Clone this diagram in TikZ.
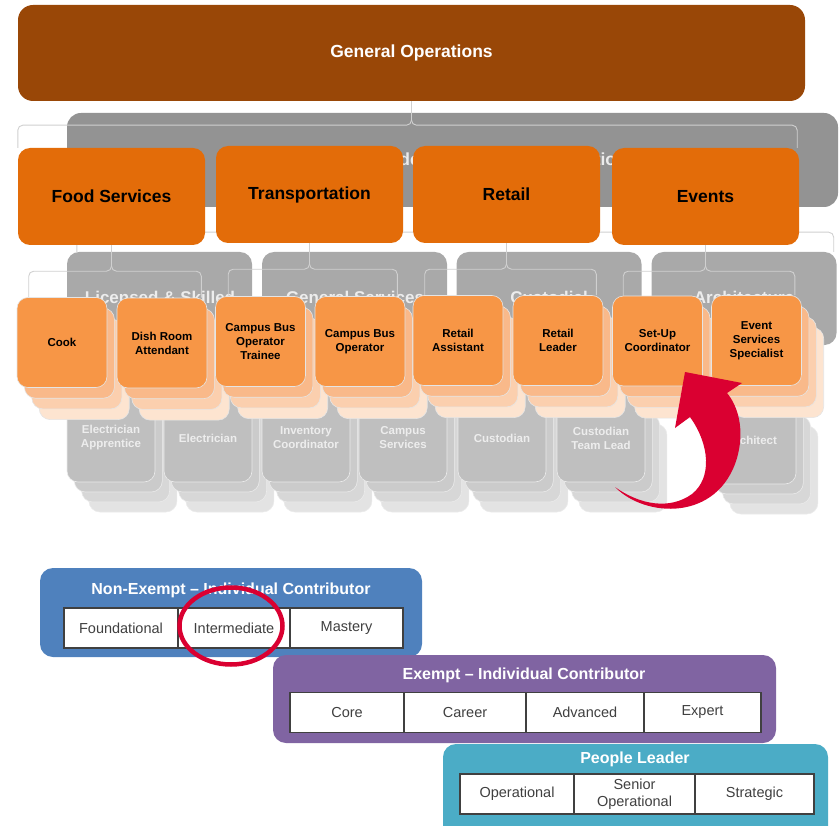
\documentclass[tikz,border=0pt]{standalone}
\usepackage{fontspec}
\setmainfont{Liberation Sans}
\usetikzlibrary{positioning, shapes.geometric}
\definecolor{opsbrown}{HTML}{994707}
\definecolor{opsorange}{HTML}{E36C09}
\definecolor{jobfront}{HTML}{F79646}
\definecolor{jobback1}{HTML}{F9B98A}
\definecolor{jobback2}{HTML}{FBCFAE}
\definecolor{jobback3}{HTML}{FDE4D0}
\definecolor{ghostbar}{HTML}{939393}
\definecolor{ghostmid}{HTML}{A9A9A9}
\definecolor{ghostfront}{HTML}{BFBFBF}
\definecolor{ghostback1}{HTML}{CBCBCB}
\definecolor{ghostback2}{HTML}{D7D7D7}
\definecolor{ghostback3}{HTML}{E3E3E3}
\definecolor{ghosttext}{HTML}{EDEDED}
\definecolor{bracegray}{HTML}{D0D0D0}
\definecolor{nonexblue}{HTML}{4F81BD}
\definecolor{exemptpurple}{HTML}{8064A2}
\definecolor{leaderteal}{HTML}{4BACC6}
\definecolor{celltext}{HTML}{404040}
\definecolor{moveRed}{HTML}{DA0031}
\pgfdeclarelayer{ghost}
\pgfdeclarelayer{braces}
\pgfsetlayers{ghost,braces,main}

\begin{document}
\begin{tikzpicture}[x=1pt, y=-1pt,
    dept/.style={rounded corners=12pt, fill=opsorange, minimum width=187pt, minimum height=97pt, inner sep=0pt, font=\bfseries\fontsize{17.5}{20}\selectfont},
    jobcard/.style={rounded corners=11pt, minimum width=90pt, minimum height=90pt, inner sep=0pt, align=center, draw=black!10, line width=0.6pt, font=\bfseries\fontsize{11.5}{14}\selectfont},
    ghostunit/.style={rounded corners=12pt, fill=ghostmid, minimum width=185pt, minimum height=93pt, inner sep=0pt},
    ghostcard/.style={rounded corners=11pt, minimum width=88pt, minimum height=88pt, inner sep=0pt, align=center, draw=black!8, line width=0.6pt, text=ghosttext, font=\bfseries\fontsize{11.5}{14}\selectfont},
    ghosttitle/.style={text=ghosttext, inner sep=0pt, font=\bfseries\fontsize{17}{20}\selectfont},
    brace/.style={draw=bracegray, line width=0.9pt, rounded corners=5pt},
    band/.style={rounded corners=13pt, inner sep=0pt},
    bandtitle/.style={text=white, font=\bfseries\fontsize{16}{19}\selectfont},
    level/.style={draw=celltext, fill=white, line width=1.1pt, outer sep=0pt, minimum height=40pt, inner sep=0pt, align=center, text=celltext, font=\fontsize{14.5}{17.5}\selectfont}
  ]
  \useasboundingbox (0,0) rectangle (840,826);

  % faded chart behind the orange one
  \begin{pgfonlayer}{ghost}
    \node[rounded corners=14pt, fill=ghostbar, minimum width=771pt, minimum height=94pt] (ghostbar) at (452.5,160) {};
    \node[ghosttitle, anchor=base west, text=white!85!gray, font=\bfseries\fontsize{17.5}{20}\selectfont] (ghostbarTxt) at (369,166) {Leadership and Administration};
    \node[ghostunit] (gLicensed) at (159.5,298.5) {};
    \node[ghostunit] (gGeneral) at (354.5,298.5) {};
    \node[ghostunit] (gCustodial) at (549,298.5) {};
    \node[ghostunit] (gArch) at (744,298.5) {};
    \node[ghosttitle, anchor=base] (gLicensedTxt) at (160,303) {Licensed \& Skilled};
    \node[ghosttitle, anchor=base] (gGeneralTxt) at (355,303) {General Services};
    \node[ghosttitle, anchor=base] (gCustodialTxt) at (549,303) {Custodial};
    \node[ghosttitle, anchor=base] (gArchTxt) at (744,303) {Architecture};
    \foreach \gx/\gy/\gname/\gtext in {111/438/gApprentice/{Electrician\\Apprentice}, 208/438/gElectrician/Electrician,
        306/438/gInventory/{Inventory\\Coordinator}, 403/438/gCampus/{Campus\\Services}, 502/438/gCustodian/Custodian,
        601/438/gTeamLead/{Custodian\\Team Lead}, 752/440/gArchitect/Architect} {
      \foreach \k/\shade in {3/ghostback3, 2/ghostback2, 1/ghostback1}
        \node[ghostcard, fill=\shade] (\gname-\k) at (\gx+7.3*\k,\gy+10*\k) {};
      \node[ghostcard, fill=ghostfront] (\gname) at (\gx,\gy) {\gtext};
    }
  \end{pgfonlayer}

  % top of the chart
  \node[rounded corners=15pt, fill=opsbrown, minimum width=787pt, minimum height=96pt, text=white, font=\bfseries\fontsize{17.5}{20}\selectfont] (genops) at (411.5,53) {General Operations};

  \node[dept] (food) at (111.5,196.5) {Food Services};
  \node[dept] (transport) at (309.5,194.5) {Transportation};
  \node[dept] (retail) at (506.5,194.5) {Retail};
  \node[dept] (events) at (705.5,196.5) {Events};

  % job titles, each a small stack of cards
  \foreach \jx/\jy/\jname/\jtext in {62/342.5/cook/Cook, 162/343/dish/{Dish Room\\Attendant},
      260.5/341.5/trainee/{Campus Bus\\Operator\\Trainee}, 360/341.5/busop/{Campus Bus\\Operator},
      458/340.5/rassist/{Retail\\Assistant}, 558/340.5/rleader/{Retail\\Leader},
      657.5/341/setup/{Set-Up\\Coordinator}, 756.5/340.5/evspec/{Event\\Services\\Specialist}} {
    \foreach \k/\shade in {3/jobback3, 2/jobback2, 1/jobback1}
      \node[jobcard, fill=\shade] (\jname-\k) at (\jx+7.4*\k,\jy+10.7*\k) {};
    \node[jobcard, fill=jobfront] (\jname) at (\jx,\jy) {\jtext};
  }

  % brackets under each box
  \begin{pgfonlayer}{braces}
    \draw[brace] (genops.south) -- ++(0,24) -| (food.north west);
    \draw[brace] (genops.south) -- ++(0,24) -| ([xshift=-2pt]events.north east);
    \draw[brace] (ghostbar.south) -- ++(0,25) -| ([xshift=10pt]gLicensed.north west);
    \draw[brace] (ghostbar.south) -- ++(0,25) -| ([xshift=-3pt]gArch.north east);
    \draw[brace] (food.south) -- ++(0,26) -| ([xshift=12pt]cook.north west);
    \draw[brace] (food.south) -- ++(0,26) -| ([xshift=-6pt]dish.north east);
    \draw[brace] (transport.south) -- ++(0,26) -| ([xshift=13pt]trainee.north west);
    \draw[brace] (transport.south) -- ++(0,26) -| ([xshift=-8pt]busop.north east);
    \draw[brace] (retail.south) -- ++(0,26) -| ([xshift=12pt]rassist.north west);
    \draw[brace] (retail.south) -- ++(0,26) -| ([xshift=-7pt]rleader.north east);
    \draw[brace] (events.south) -- ++(0,26) -| ([xshift=11pt]setup.north west);
    \draw[brace] (events.south) -- ++(0,26) -| ([xshift=-7pt]evspec.north east);
  \end{pgfonlayer}

  % the move into Set-Up Coordinator
  \fill[moveRed] (615,487) .. controls (645,518) and (718,522) .. (737,458)
    .. controls (745,430) and (738,406) .. (727,393) -- (742,383) -- (685,372) -- (675,428) -- (690,417)
    .. controls (710,445) and (712,478) .. (692,494) .. controls (670,510) and (640,505) .. cycle;

  % job families
  \node[band, fill=nonexblue, minimum width=382pt, minimum height=89pt] (nonexempt) at (231,612.5) {};
  \node[bandtitle] (nonexemptTitle) at (231,590) {Non-Exempt – Individual Contributor};
  \node[level, minimum width=114pt] (foundational) at (121,628) {Foundational};
  \node[level, minimum width=112pt, right=0pt of foundational] (intermediate) {Intermediate};
  \node[level, minimum width=113pt, right=0pt of intermediate] (mastery) {Mastery};

  \node[band, fill=exemptpurple, minimum width=503pt, minimum height=88pt] (exempt) at (524.5,699) {};
  \node[bandtitle] (exemptTitle) at (524,675) {Exempt – Individual Contributor};
  \node[level, minimum width=114pt] (core) at (347,712.5) {Core};
  \node[level, minimum width=122pt, right=0pt of core] (career) {Career};
  \node[level, minimum width=118pt, right=0pt of career] (advanced) {Advanced};
  \node[level, minimum width=117pt, right=0pt of advanced] (expert) {Expert};

  \node[band, fill=leaderteal, minimum width=385pt, minimum height=96pt] (leader) at (635.5,792) {};
  \node[bandtitle] (leaderTitle) at (635,759) {People Leader};
  \node[level, minimum width=114pt] (operational) at (517,794) {Operational};
  \node[level, minimum width=121pt, right=0pt of operational] (senior) {Senior\\Operational};
  \node[level, minimum width=119pt, right=0pt of senior] (strategic) {Strategic};

  \node[draw=moveRed, ellipse, line width=4.5pt, minimum width=103pt, minimum height=77pt, inner sep=0pt] (ring) at (231,626) {};
\end{tikzpicture}
\end{document}
